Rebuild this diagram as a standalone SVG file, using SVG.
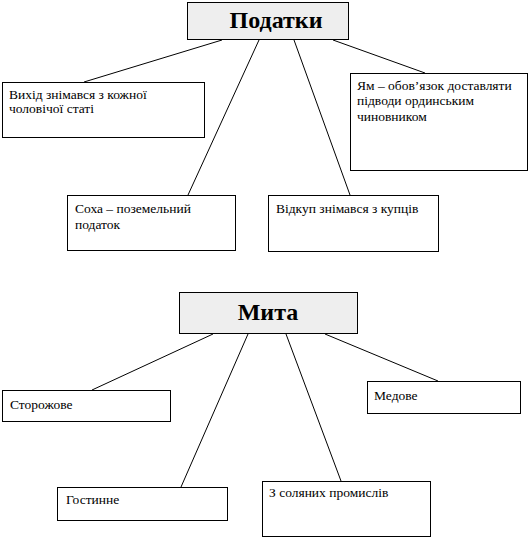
<svg xmlns="http://www.w3.org/2000/svg" width="529" height="537" viewBox="0 0 529 537">
<style>
.box{fill:#ffffff;stroke:#000;stroke-width:1}
.head{fill:#eeeeee;stroke:#000;stroke-width:1}
.t{font-family:"Liberation Serif","Times New Roman",serif;font-size:13.5px;fill:#000}
.h{font-family:"Liberation Serif","Times New Roman",serif;font-size:24px;font-weight:bold;fill:#000;text-anchor:middle}
.c{stroke:#000;stroke-width:1;fill:none}
</style>
<rect width="529" height="537" fill="#fff"/>
<g id="connectors">
<line class="c" x1="222" y1="40" x2="84" y2="82"/>
<line class="c" x1="259" y1="40" x2="188" y2="195"/>
<line class="c" x1="294" y1="40" x2="350" y2="195"/>
<line class="c" x1="333" y1="40" x2="425" y2="73"/>
<line class="c" x1="213" y1="334" x2="92" y2="390"/>
<line class="c" x1="248" y1="334" x2="181" y2="487"/>
<line class="c" x1="286" y1="334" x2="341" y2="481"/>
<line class="c" x1="325" y1="334" x2="438" y2="381"/>
</g>
<g id="podatky">
<rect class="head" x="187.5" y="2.5" width="161" height="37"/>
<text class="h" x="276" y="28">Податки</text>
</g>
<g id="vykhid">
<rect class="box" x="2.5" y="82.5" width="202" height="55"/>
<text class="t" x="9" y="99">Вихід знімався з кожної</text>
<text class="t" x="9" y="113">чоловічої статі</text>
</g>
<g id="yam">
<rect class="box" x="350.5" y="73.5" width="177" height="97"/>
<text class="t" x="357" y="90">Ям – обов’язок доставляти</text>
<text class="t" x="357" y="105">підводи ординським</text>
<text class="t" x="357" y="121">чиновником</text>
</g>
<g id="sokha">
<rect class="box" x="67.5" y="195.5" width="168" height="55"/>
<text class="t" x="75" y="213">Соха – поземельний</text>
<text class="t" x="75" y="229">податок</text>
</g>
<g id="vidkup">
<rect class="box" x="268.5" y="195.5" width="170" height="56"/>
<text class="t" x="276" y="213">Відкуп знімався з купців</text>
</g>
<g id="myta">
<rect class="head" x="179.5" y="292.5" width="178" height="41"/>
<text class="h" x="268" y="320">Мита</text>
</g>
<g id="storozhove">
<rect class="box" x="2.5" y="390.5" width="168" height="31"/>
<text class="t" x="10" y="409">Сторожове</text>
</g>
<g id="medove">
<rect class="box" x="367.5" y="381.5" width="153" height="32"/>
<text class="t" x="374" y="400">Медове</text>
</g>
<g id="hostynne">
<rect class="box" x="57.5" y="487.5" width="170" height="33"/>
<text class="t" x="66" y="504">Гостинне</text>
</g>
<g id="solyani">
<rect class="box" x="262.5" y="481.5" width="168" height="55"/>
<text class="t" x="269" y="497">З соляних промислів</text>
</g>
</svg>
